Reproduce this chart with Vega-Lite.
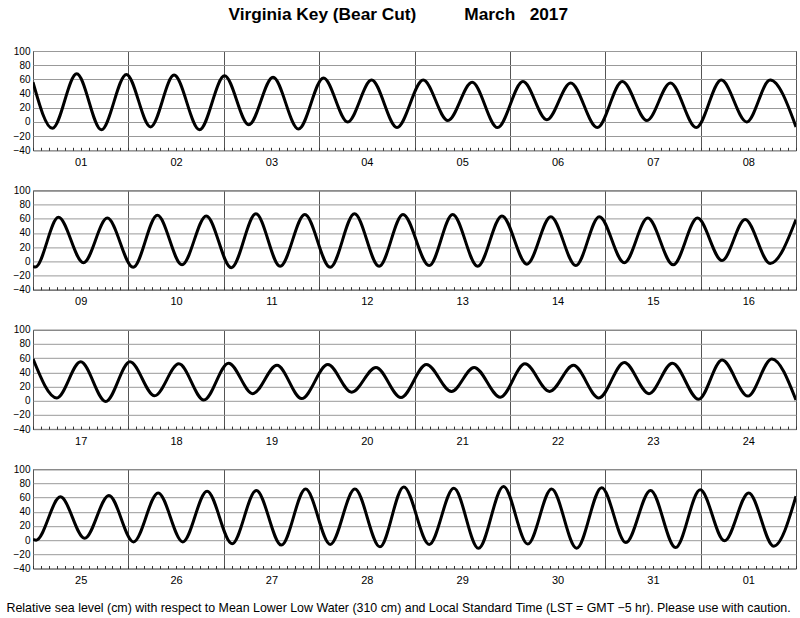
{
 "$schema": "https://vega.github.io/schema/vega-lite/v6.json",
 "padding": {"left": 5, "top": 6, "right": 5, "bottom": 0},
 "background": "white",
 "title": {"text": "Virginia Key (Bear Cut)\u00a0\u00a0\u00a0\u00a0\u00a0\u00a0\u00a0\u00a0\u00a0\u00a0March\u00a0\u00a0\u00a02017", "fontSize": 17.3, "fontWeight": "bold", "font": "Liberation Sans", "color": "#000", "anchor": "middle", "frame": "bounds", "offset": 22, "dx": -3},
 "data": {"values": [
  {"panel":1,"hour":0,"level":56},{"panel":1,"hour":4.9,"level":-9},{"panel":1,"hour":11.0,"level":68},{"panel":1,"hour":17.2,"level":-11},
  {"panel":1,"hour":23.5,"level":67},{"panel":1,"hour":29.6,"level":-7},{"panel":1,"hour":35.5,"level":66},{"panel":1,"hour":41.9,"level":-11},
  {"panel":1,"hour":48.2,"level":65},{"panel":1,"hour":54.3,"level":-4},{"panel":1,"hour":60.4,"level":63},{"panel":1,"hour":66.8,"level":-10},
  {"panel":1,"hour":73.1,"level":62},{"panel":1,"hour":79.2,"level":0},{"panel":1,"hour":85.2,"level":59},{"panel":1,"hour":91.6,"level":-8},
  {"panel":1,"hour":98.2,"level":59},{"panel":1,"hour":104.4,"level":2},{"panel":1,"hour":110.5,"level":56},{"panel":1,"hour":116.9,"level":-8},
  {"panel":1,"hour":123.3,"level":57},{"panel":1,"hour":129.3,"level":3},{"panel":1,"hour":135.3,"level":55},{"panel":1,"hour":142.0,"level":-8},
  {"panel":1,"hour":148.3,"level":57},{"panel":1,"hour":154.5,"level":2},{"panel":1,"hour":160.4,"level":55},{"panel":1,"hour":166.9,"level":-8},
  {"panel":1,"hour":173.2,"level":59},{"panel":1,"hour":179.6,"level":0},{"panel":1,"hour":185.5,"level":59},{"panel":1,"hour":192,"level":-7},
  {"panel":2,"hour":192,"level":-7},{"panel":2,"hour":192.6,"level":-8},{"panel":2,"hour":198.4,"level":62},{"panel":2,"hour":204.7,"level":-2},
  {"panel":2,"hour":210.7,"level":61},{"panel":2,"hour":217.2,"level":-8.5},{"panel":2,"hour":223.3,"level":65},{"panel":2,"hour":229.5,"level":-5},
  {"panel":2,"hour":235.6,"level":64},{"panel":2,"hour":241.9,"level":-9},{"panel":2,"hour":248.1,"level":67},{"panel":2,"hour":254.2,"level":-7},
  {"panel":2,"hour":260.4,"level":66},{"panel":2,"hour":266.8,"level":-8.5},{"panel":2,"hour":272.9,"level":67},{"panel":2,"hour":279.1,"level":-7},
  {"panel":2,"hour":285.1,"level":66},{"panel":2,"hour":291.7,"level":-6},{"panel":2,"hour":297.6,"level":66},{"panel":2,"hour":303.9,"level":-7},
  {"panel":2,"hour":310.0,"level":64},{"panel":2,"hour":316.3,"level":-4},{"panel":2,"hour":322.3,"level":63},{"panel":2,"hour":328.6,"level":-6},
  {"panel":2,"hour":334.5,"level":63},{"panel":2,"hour":340.8,"level":-2},{"panel":2,"hour":346.7,"level":61},{"panel":2,"hour":353.1,"level":-5},
  {"panel":2,"hour":359.2,"level":61},{"panel":2,"hour":365.4,"level":1},{"panel":2,"hour":371.2,"level":59},{"panel":2,"hour":377.5,"level":-3},
  {"panel":2,"hour":384,"level":59},
  {"panel":3,"hour":384,"level":59},{"panel":3,"hour":390.0,"level":4},{"panel":3,"hour":396.0,"level":55},{"panel":3,"hour":402.3,"level":-1},
  {"panel":3,"hour":408.4,"level":55},{"panel":3,"hour":414.6,"level":7},{"panel":3,"hour":420.7,"level":52},{"panel":3,"hour":427.0,"level":1},
  {"panel":3,"hour":433.2,"level":53},{"panel":3,"hour":439.3,"level":10},{"panel":3,"hour":445.4,"level":50},{"panel":3,"hour":451.6,"level":3},
  {"panel":3,"hour":458.2,"level":51},{"panel":3,"hour":464.2,"level":12},{"panel":3,"hour":470.3,"level":47},{"panel":3,"hour":476.6,"level":4.5},
  {"panel":3,"hour":483.0,"level":51},{"panel":3,"hour":489.3,"level":13},{"panel":3,"hour":495.0,"level":47},{"panel":3,"hour":501.6,"level":5},
  {"panel":3,"hour":507.8,"level":52},{"panel":3,"hour":514.0,"level":13},{"panel":3,"hour":520.0,"level":50},{"panel":3,"hour":526.4,"level":4},
  {"panel":3,"hour":532.8,"level":54},{"panel":3,"hour":539.0,"level":10},{"panel":3,"hour":544.9,"level":53},{"panel":3,"hour":551.5,"level":2},
  {"panel":3,"hour":557.4,"level":57.5},{"panel":3,"hour":563.9,"level":6.5},{"panel":3,"hour":569.9,"level":59},{"panel":3,"hour":576,"level":1},
  {"panel":4,"hour":576,"level":1},{"panel":4,"hour":576.8,"level":0},{"panel":4,"hour":582.9,"level":61},{"panel":4,"hour":589.0,"level":2.5},
  {"panel":4,"hour":595.1,"level":63},{"panel":4,"hour":601.3,"level":-2.5},{"panel":4,"hour":607.5,"level":66.5},{"panel":4,"hour":613.7,"level":-2.5},
  {"panel":4,"hour":619.8,"level":69},{"panel":4,"hour":626.1,"level":-5},{"panel":4,"hour":632.2,"level":70},{"panel":4,"hour":638.5,"level":-7},
  {"panel":4,"hour":644.6,"level":72},{"panel":4,"hour":650.8,"level":-6},{"panel":4,"hour":657.0,"level":72},{"panel":4,"hour":663.3,"level":-9.5},
  {"panel":4,"hour":669.3,"level":75},{"panel":4,"hour":675.7,"level":-6},{"panel":4,"hour":681.9,"level":73},{"panel":4,"hour":688.1,"level":-11.5},
  {"panel":4,"hour":694.4,"level":75.5},{"panel":4,"hour":700.5,"level":-5.5},{"panel":4,"hour":706.5,"level":72},{"panel":4,"hour":712.8,"level":-11.5},
  {"panel":4,"hour":719.1,"level":74},{"panel":4,"hour":725.2,"level":-3.5},{"panel":4,"hour":731.4,"level":70},{"panel":4,"hour":737.7,"level":-10.5},
  {"panel":4,"hour":743.9,"level":71},{"panel":4,"hour":750.0,"level":-1},{"panel":4,"hour":756.1,"level":66.5},{"panel":4,"hour":762.4,"level":-8.5},
  {"panel":4,"hour":768,"level":62}
 ]},
 "bounds": "flush",
 "spacing": 39.4,
 "vconcat": [
  {
   "width": 763, "height": 99.3,
   "transform": [{"filter": "datum.panel == 1"}],
   "mark": {"type": "line", "interpolate": "monotone", "color": "#000", "strokeWidth": 3, "clip": true},
   "encoding": {
    "x": {"field": "hour", "type": "quantitative", "scale": {"domain": [0, 192], "nice": false, "zero": false},
     "axis": {"title": null, "tickCount": 96, "gridOpacity": {"condition": {"test": "datum.value % 24 === 0", "value": 1}, "value": 0},
      "labelExpr": "datum.value % 24 === 12 ? pad(toString(floor(datum.value / 24) % 31 + 1), 2, '0', 'left') : ''"}},
    "y": {"field": "level", "type": "quantitative", "scale": {"domain": [-40, 100], "nice": false, "zero": false},
     "axis": {"title": null, "values": [-40, -20, 0, 20, 40, 60, 80, 100]}}
   }
  },
  {
   "width": 763, "height": 99.3,
   "transform": [{"filter": "datum.panel == 2"}],
   "mark": {"type": "line", "interpolate": "monotone", "color": "#000", "strokeWidth": 3, "clip": true},
   "encoding": {
    "x": {"field": "hour", "type": "quantitative", "scale": {"domain": [192, 384], "nice": false, "zero": false},
     "axis": {"title": null, "tickCount": 96, "gridOpacity": {"condition": {"test": "datum.value % 24 === 0", "value": 1}, "value": 0},
      "labelExpr": "datum.value % 24 === 12 ? pad(toString(floor(datum.value / 24) % 31 + 1), 2, '0', 'left') : ''"}},
    "y": {"field": "level", "type": "quantitative", "scale": {"domain": [-40, 100], "nice": false, "zero": false},
     "axis": {"title": null, "values": [-40, -20, 0, 20, 40, 60, 80, 100]}}
   }
  },
  {
   "width": 763, "height": 99.3,
   "transform": [{"filter": "datum.panel == 3"}],
   "mark": {"type": "line", "interpolate": "monotone", "color": "#000", "strokeWidth": 3, "clip": true},
   "encoding": {
    "x": {"field": "hour", "type": "quantitative", "scale": {"domain": [384, 576], "nice": false, "zero": false},
     "axis": {"title": null, "tickCount": 96, "gridOpacity": {"condition": {"test": "datum.value % 24 === 0", "value": 1}, "value": 0},
      "labelExpr": "datum.value % 24 === 12 ? pad(toString(floor(datum.value / 24) % 31 + 1), 2, '0', 'left') : ''"}},
    "y": {"field": "level", "type": "quantitative", "scale": {"domain": [-40, 100], "nice": false, "zero": false},
     "axis": {"title": null, "values": [-40, -20, 0, 20, 40, 60, 80, 100]}}
   }
  },
  {
   "width": 763, "height": 99.3,
   "transform": [{"filter": "datum.panel == 4"}],
   "mark": {"type": "line", "interpolate": "monotone", "color": "#000", "strokeWidth": 3, "clip": true},
   "encoding": {
    "x": {"field": "hour", "type": "quantitative", "scale": {"domain": [576, 768], "nice": false, "zero": false},
     "axis": {"title": "Relative sea level (cm) with respect to Mean Lower Low Water (310 cm) and Local Standard Time (LST = GMT \u22125 hr). Please use with caution.",
      "titleFontSize": 12.4, "titleFontWeight": "normal", "titleColor": "#000", "titleX": -27, "titleAlign": "left", "titleAnchor": "start", "titlePadding": 16,
      "tickCount": 96, "gridOpacity": {"condition": {"test": "datum.value % 24 === 0", "value": 1}, "value": 0},
      "labelExpr": "datum.value % 24 === 12 ? pad(toString(floor(datum.value / 24) % 31 + 1), 2, '0', 'left') : ''"}},
    "y": {"field": "level", "type": "quantitative", "scale": {"domain": [-40, 100], "nice": false, "zero": false},
     "axis": {"title": null, "values": [-40, -20, 0, 20, 40, 60, 80, 100]}}
   }
  }
 ],
 "config": {
  "font": "Liberation Sans",
  "view": {"stroke": "#222", "strokeWidth": 1},
  "axisX": {"grid": true, "gridColor": "#555", "gridWidth": 1, "ticks": true, "tickSize": -3, "tickColor": "#333", "tickWidth": 1, "domain": false,
   "labelFontSize": 11, "labelColor": "#000", "labelPadding": 9, "labelFlush": false, "labelOverlap": false, "labelBound": false},
  "axisY": {"grid": true, "gridColor": "#999", "gridWidth": 1, "ticks": false, "domain": false,
   "labelFontSize": 10, "labelColor": "#000", "labelPadding": 3}
 }
}
